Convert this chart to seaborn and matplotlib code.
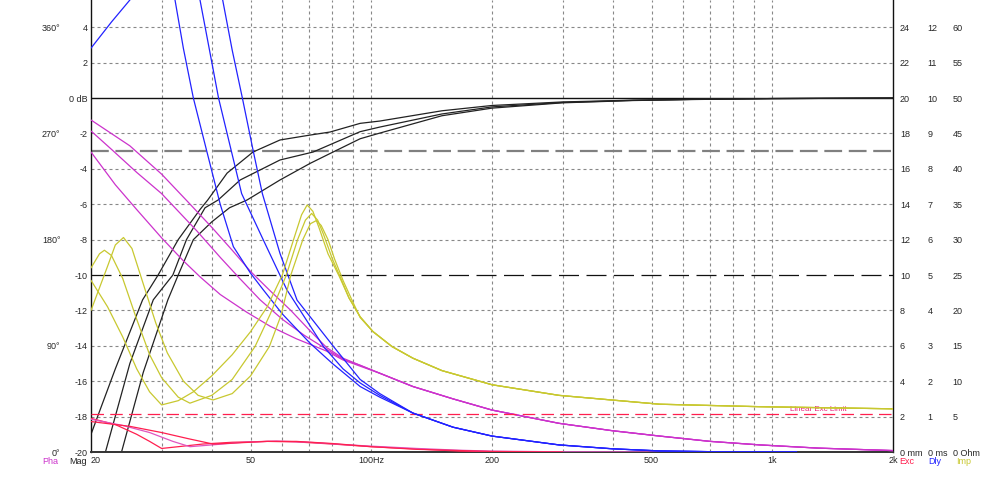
import numpy as np
import pandas as pd
import matplotlib
matplotlib.use("Agg")
import matplotlib.pyplot as plt
import seaborn as sns

# ---------------- data ----------------
# Magnitude (dB)
mag_a_f = [20, 23, 26.9, 29.4, 33, 37.4, 39.1, 43.7, 50.7, 59.2, 70, 78.9, 93.8, 105, 150, 200, 300, 450, 650, 1000, 2000]
mag_a_db = [-19.0, -15.3, -11.4, -10.0, -8.0, -6.3, -5.76, -4.24, -3.05, -2.37, -2.1, -1.92, -1.43, -1.30, -0.72, -0.42, -0.22, -0.12, -0.07, -0.03, 0.0]
mag_b_f = [21.7, 25, 28.6, 32, 34.6, 38.5, 41.5, 47.1, 59.2, 71.6, 93.8, 105, 150, 200, 300, 450, 650, 1000, 2000]
mag_b_db = [-20.05, -15.0, -11.4, -10.0, -8.0, -6.2, -5.76, -4.63, -3.5, -3.05, -1.9, -1.64, -0.9, -0.5, -0.25, -0.13, -0.07, -0.03, 0.0]
mag_c_f = [23.8, 27, 31.1, 33, 36, 40, 44.3, 49, 59.2, 70.4, 80.3, 93.8, 105, 150, 200, 300, 450, 650, 1000, 2000]
mag_c_db = [-20.05, -15.5, -11.4, -10.0, -8.0, -7.0, -6.2, -5.76, -4.63, -3.69, -3.05, -2.3, -1.98, -1.0, -0.57, -0.27, -0.14, -0.08, -0.03, 0.0]

# Phase (degrees)
tail_ph_f = [105, 127, 160, 200, 294, 400, 524, 700, 932, 1300, 2000]
tail_ph_deg = [66.75, 55.5, 45.0, 35.55, 24.3, 18.0, 13.5, 9.0, 6.0, 3.3, 1.2]
ph1_f = [20, 25, 30, 35, 40, 45, 50, 56, 63, 70, 77.4, 85, 93.8]
ph1_deg = [281.4, 259.5, 235.5, 211.5, 190.5, 171.0, 153.0, 136.5, 120.0, 103.5, 88.5, 79.5, 73.5]
ph2_f = [20, 22.6, 26, 30, 36.7, 42, 47, 52.8, 60, 68, 77.4, 85, 93.8]
ph2_deg = [272.1, 255.9, 237.0, 219.0, 187.5, 165.0, 147.0, 129.0, 112.5, 99.0, 87.0, 78.75, 73.5]
ph3_f = [20, 23, 26, 30, 34, 37.4, 42, 48.9, 56, 65, 77.4, 85, 93.8]
ph3_deg = [254.25, 226.5, 205.5, 181.5, 162.0, 148.5, 133.5, 118.5, 106.5, 96.0, 85.5, 78.0, 72.75]

# Group delay (ms)
tail_dl_f = [127, 160, 200, 294, 400, 524, 800, 1150]
tail_dl_ms = [1.1, 0.7, 0.45, 0.2, 0.09, 0.03, 0.0, 0.0]
dl1_f = [20, 22.5, 25, 28, 30, 32.4, 34, 36, 38.9, 42, 45.3, 50, 53.8, 60, 70.4, 80, 93.8, 105]
dl1_ms = [11.41, 12.15, 12.77, 13.5, 13.5, 12.77, 11.4, 10.0, 8.49, 7.0, 5.8, 5.05, 4.58, 3.9, 3.07, 2.5, 1.85, 1.55]
dl2_f = [35, 37.4, 39.5, 41.6, 44.8, 47.5, 53.8, 61.6, 76, 85, 93.8, 105]
dl2_ms = [13.5, 12.77, 11.35, 10.0, 8.49, 7.3, 5.99, 4.58, 2.98, 2.35, 1.95, 1.6]
dl3_f = [40, 42.6, 45, 47.7, 50.8, 53.5, 59.2, 65.3, 80.5, 93.8, 105]
dl3_ms = [13.5, 12.77, 11.35, 10.0, 8.49, 7.3, 5.61, 4.29, 2.98, 2.05, 1.65]

# Cone excursion (mm)
ex1_f = [20, 23, 26, 28, 30, 33, 38, 45, 55, 65, 80, 100, 130, 166, 200, 300]
ex1_mm = [1.9, 1.55, 1.0, 0.6, 0.2, 0.3, 0.45, 0.55, 0.6, 0.57, 0.45, 0.3, 0.17, 0.05, 0.02, 0.0]
ex2_f = [20, 24, 28, 32, 35.3, 40, 48, 58, 70, 85, 100, 130, 166, 200, 300, 600]
ex2_mm = [1.85, 1.5, 1.1, 0.6, 0.3, 0.4, 0.55, 0.62, 0.55, 0.42, 0.33, 0.2, 0.1, 0.05, 0.01, 0.0]
ex3_f = [20, 25, 30, 35, 40.3, 45, 55, 65, 80, 100, 130, 200, 300]
ex3_mm = [1.72, 1.45, 1.1, 0.75, 0.45, 0.5, 0.6, 0.6, 0.48, 0.3, 0.15, 0.03, 0.0]
exc_limit_mm = 2.13

# Impedance (Ohm)
tail_im_f = [101, 112.6, 127, 150, 200, 294, 524, 932, 2000]
tail_im_ohm = [17.0, 14.9, 13.25, 11.5, 9.5, 8.0, 6.75, 6.4, 6.1]
im1_f = [20, 22, 24, 26, 28, 30, 33, 36, 40, 45, 50, 55, 60, 64, 67, 69.2, 71.5, 74, 78, 83.3, 88, 93.8]
im1_ohm = [24.25, 20.5, 16.25, 11.75, 8.5, 6.65, 7.25, 8.5, 10.75, 13.75, 17.0, 20.5, 25.0, 30.0, 33.5, 34.9, 34.0, 31.75, 28.0, 24.75, 21.75, 19.1]
im2_f = [20, 21, 21.6, 22.5, 24, 26, 28, 30, 33, 35.3, 40, 45, 51.3, 56, 61.4, 65.5, 68.5, 71, 73.5, 76, 80, 84, 88, 93.8]
im2_ohm = [26.0, 28.0, 28.5, 27.75, 24.5, 18.75, 13.75, 10.5, 7.75, 6.9, 8.0, 10.25, 14.9, 19.5, 25.0, 30.0, 32.75, 33.7, 32.75, 30.75, 27.25, 24.5, 21.75, 19.1]
im3_f = [20, 22, 23, 24.1, 25.3, 27, 29, 31, 34, 37, 40.3, 45, 50, 55.7, 59.5, 63, 67.5, 70.5, 73, 75, 78, 81, 85, 89, 93.8]
im3_ohm = [20.0, 26.25, 29.25, 30.3, 28.75, 23.75, 18.25, 14.0, 10.0, 8.0, 7.35, 8.25, 10.75, 14.9, 19.25, 25.0, 30.0, 32.25, 32.7, 32.0, 30.0, 27.25, 24.25, 21.75, 19.0]

# Axis ticks / labels
x_ticks = [20, 50, 100, 200, 500, 1000, 2000]
x_labels = ["20", "50", "100Hz", "200", "500", "1k", "2k"]
x_grid = [30, 40, 50, 60, 70, 80, 90, 100, 200, 300, 400, 500, 600, 700, 800, 900, 1000]
db_ticks = list(range(-20, 5, 2))
db_labels = ["0 dB" if t == 0 else str(t) for t in db_ticks]
ph_ticks = [0, 90, 180, 270, 360]
ph_labels = ["0°", "90°", "180°", "270°", "360°"]
mm_ticks = list(range(0, 25, 2))
mm_labels = ["0 mm"] + [str(t) for t in mm_ticks[1:]]
ms_ticks = list(range(0, 13))
ms_labels = ["0 ms"] + [str(t) for t in ms_ticks[1:]]
ohm_ticks = list(range(0, 61, 5))
ohm_labels = ["0 Ohm"] + [str(t) for t in ohm_ticks[1:]]

# ---------------- style ----------------
sns.set_style("white")
plt.rcParams["font.family"] = ["Liberation Sans", "DejaVu Sans"]
FS = 6.5

C_MAG = "#222222"
C_PH = "#cc33cc"
C_DL = "#2222ff"
C_EX = "#ff1f4f"
C_EX2 = "#e055c0"
C_IM = "#c8c830"
C_GRID = "#888888"

DB_MIN, DB_MAX = -20.0, 5.54
span = DB_MAX - DB_MIN

fig = plt.figure(figsize=(10, 4.78), dpi=100)
ax = fig.add_axes([0.091, 26 / 478, 0.802, 452 / 478])
ax.set_xscale("log")

# grid
for f in x_grid:
    ax.axvline(f, color=C_GRID, lw=0.8, dashes=(2.7, 2.7), zorder=0)
for t in db_ticks:
    if t in (0, -10):
        continue
    ax.axhline(t, color=C_GRID, lw=0.8, dashes=(2.7, 2.7), zorder=0)
ax.axhline(0, color="#111111", lw=1.0, zorder=1)
ax.axhline(-10, color="#111111", lw=0.9, dashes=(16, 6), zorder=1)
ax.axhline(-3, color="#808080", lw=1.6, dashes=(8, 3), zorder=1)

# twins
ax_ph = ax.twinx()
ax_mm = ax.twinx()
ax_ms = ax.twinx()
ax_oh = ax.twinx()

def line(axis, x, y, color):
    sns.lineplot(x=x, y=y, ax=axis, color=color, lw=0.9, legend=False, estimator=None, sort=False)

line(ax_ph, ph1_f + tail_ph_f, ph1_deg + tail_ph_deg, C_PH)
line(ax_ph, ph2_f + tail_ph_f, ph2_deg + tail_ph_deg, C_PH)
line(ax_ph, ph3_f + tail_ph_f, ph3_deg + tail_ph_deg, C_PH)

line(ax_oh, im1_f + tail_im_f, im1_ohm + tail_im_ohm, C_IM)
line(ax_oh, im2_f + tail_im_f, im2_ohm + tail_im_ohm, C_IM)
line(ax_oh, im3_f + tail_im_f, im3_ohm + tail_im_ohm, C_IM)

line(ax_ms, dl1_f + tail_dl_f, dl1_ms + tail_dl_ms, C_DL)
line(ax_ms, dl2_f + tail_dl_f, dl2_ms + tail_dl_ms, C_DL)
line(ax_ms, dl3_f + tail_dl_f, dl3_ms + tail_dl_ms, C_DL)

line(ax_mm, ex1_f, ex1_mm, C_EX)
line(ax_mm, ex2_f, ex2_mm, C_EX2)
line(ax_mm, ex3_f, ex3_mm, C_EX)
ax_mm.axhline(exc_limit_mm, color=C_EX, lw=0.9, dashes=(10, 5))
ax_mm.text(1300, exc_limit_mm + 0.1, "Linear Exc Limit", color="#e8207a", fontsize=5.8,
           ha="center", va="bottom", zorder=5)

line(ax, mag_a_f, mag_a_db, C_MAG)
line(ax, mag_b_f, mag_b_db, C_MAG)
line(ax, mag_c_f, mag_c_db, C_MAG)

# limits
ax.set_xlim(20, 2000)
ax.set_ylim(DB_MIN, DB_MAX)
ax_ph.set_ylim(0, span * 15)
ax_mm.set_ylim(0, span)
ax_ms.set_ylim(0, span / 2)
ax_oh.set_ylim(0, span * 2.5)

# ticks
ax.set_xticks(x_ticks)
ax.set_xticklabels(x_labels)
ax.xaxis.set_minor_locator(matplotlib.ticker.NullLocator())
ax.tick_params(axis="x", length=0, pad=3.0, labelsize=FS)
xtl = ax.get_xticklabels()
xtl[0].set_horizontalalignment("left")
ax.set_yticks(db_ticks)
ax.set_yticklabels(db_labels)
ax.tick_params(axis="y", length=0, pad=2.2, labelsize=FS)

ax_ph.yaxis.tick_left()
ax_ph.set_yticks(ph_ticks)
ax_ph.set_yticklabels(ph_labels)
ax_ph.tick_params(axis="y", length=0, pad=22, labelsize=FS)

for a, ticks, labels, pad in [(ax_mm, mm_ticks, mm_labels, 5),
                              (ax_ms, ms_ticks, ms_labels, 25),
                              (ax_oh, ohm_ticks, ohm_labels, 43)]:
    a.set_yticks(ticks)
    a.set_yticklabels(labels)
    a.tick_params(axis="y", length=0, pad=pad, labelsize=FS)

for a in (ax, ax_ph, ax_mm, ax_ms, ax_oh):
    a.set_xlabel("")
    a.set_ylabel("")
    a.grid(False)

for a in (ax_ph, ax_mm, ax_ms, ax_oh):
    for s in a.spines.values():
        s.set_visible(False)
ax.spines["top"].set_visible(False)
for s in ("left", "right"):
    ax.spines[s].set_color("#111111")
    ax.spines[s].set_linewidth(1.0)
ax.spines["bottom"].set_color("#333333")
ax.spines["bottom"].set_linewidth(1.4)

# bottom legend texts
yb = (478 - 461) / 478
fig.text(50 / 1000, yb, "Pha", color=C_PH, fontsize=FS, ha="center", va="center")
fig.text(87 / 1000, yb, "Mag", color="#222222", fontsize=FS, ha="right", va="center")
fig.text(907 / 1000, yb, "Exc", color=C_EX, fontsize=FS, ha="center", va="center")
fig.text(935 / 1000, yb, "Dly", color=C_DL, fontsize=FS, ha="center", va="center")
fig.text(964 / 1000, yb, "Imp", color=C_IM, fontsize=FS, ha="center", va="center")

fig.savefig("out.png", dpi=100)
